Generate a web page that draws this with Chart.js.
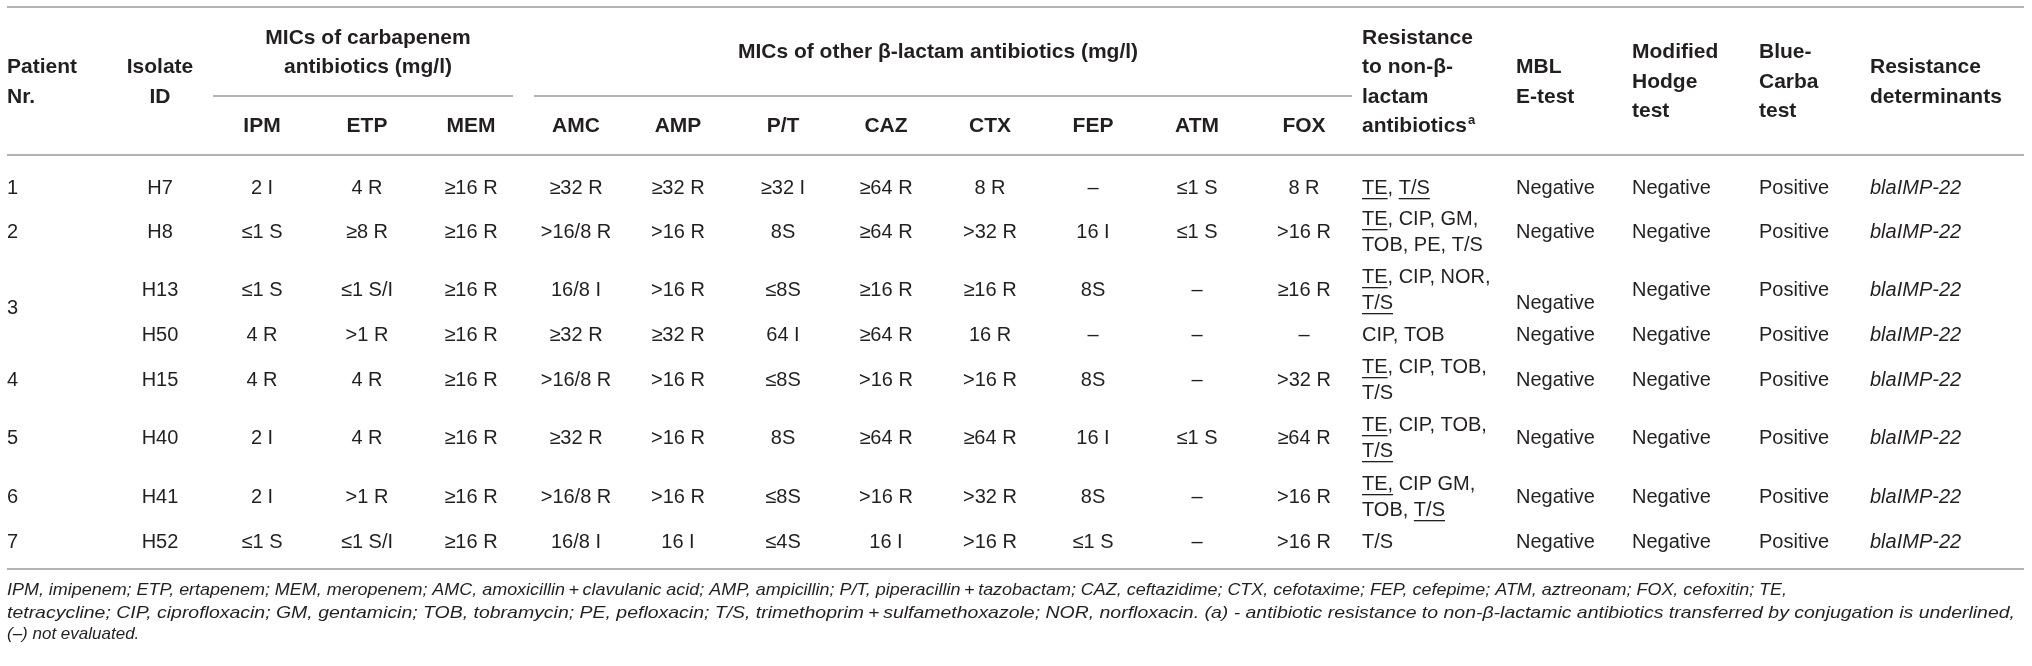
<!DOCTYPE html>
<html>
<head>
<meta charset="utf-8">
<script src="https://cdn.jsdelivr.net/npm/chart.js@4.4.1/dist/chart.umd.min.js"></script>
<style>
  html, body { margin: 0; padding: 0; background: #ffffff; }
  #wrap { width: 2032px; height: 666px; position: relative; }
</style>
</head>
<body>
<div id="wrap"><canvas id="table-chart"></canvas></div>
<script>
// ---- table values, one array per column ----
const patientNr = ['1', '2', '3', '3', '4', '5', '6', '7'];
const isolateId = ['H7', 'H8', 'H13', 'H50', 'H15', 'H40', 'H41', 'H52'];

const micIPM = ['2 I', '≤1 S', '≤1 S', '4 R', '4 R', '2 I', '2 I', '≤1 S'];
const micETP = ['4 R', '≥8 R', '≤1 S/I', '>1 R', '4 R', '4 R', '>1 R', '≤1 S/I'];
const micMEM = ['≥16 R', '≥16 R', '≥16 R', '≥16 R', '≥16 R', '≥16 R', '≥16 R', '≥16 R'];

const micAMC = ['≥32 R', '>16/8 R', '16/8 I', '≥32 R', '>16/8 R', '≥32 R', '>16/8 R', '16/8 I'];
const micAMP = ['≥32 R', '>16 R', '>16 R', '≥32 R', '>16 R', '>16 R', '>16 R', '16 I'];
const micPT  = ['≥32 I', '8S', '≤8S', '64 I', '≤8S', '8S', '≤8S', '≤4S'];
const micCAZ = ['≥64 R', '≥64 R', '≥16 R', '≥64 R', '>16 R', '≥64 R', '>16 R', '16 I'];
const micCTX = ['8 R', '>32 R', '≥16 R', '16 R', '>16 R', '≥64 R', '>32 R', '>16 R'];
const micFEP = ['–', '16 I', '8S', '–', '8S', '16 I', '8S', '≤1 S'];
const micATM = ['≤1 S', '≤1 S', '–', '–', '–', '≤1 S', '–', '–'];
const micFOX = ['8 R', '>16 R', '≥16 R', '–', '>32 R', '≥64 R', '>16 R', '>16 R'];

// _x_ marks text that is underlined (transferred by conjugation)
const nonBetaLactam = [
    '_TE_, _T/S_',
    '_TE_, CIP, GM,\nTOB, PE, T/S',
    '_TE_, CIP, NOR,\n_T/S_',
    'CIP, TOB',
    '_TE_, CIP, TOB,\nT/S',
    '_TE_, CIP, TOB,\n_T/S_',
    '_TE,_ CIP GM,\nTOB, _T/S_',
    'T/S'
];
const mblEtest = ['Negative', 'Negative', 'Negative', 'Negative', 'Negative', 'Negative', 'Negative', 'Negative'];
const hodgeTest = ['Negative', 'Negative', 'Negative', 'Negative', 'Negative', 'Negative', 'Negative', 'Negative'];
const blueCarba = ['Positive', 'Positive', 'Positive', 'Positive', 'Positive', 'Positive', 'Positive', 'Positive'];
const determinants = ['blaIMP-22', 'blaIMP-22', 'blaIMP-22', 'blaIMP-22', 'blaIMP-22', 'blaIMP-22', 'blaIMP-22', 'blaIMP-22'];

const carbapenemLabels = ['IPM', 'ETP', 'MEM'];
const otherLabels = ['AMC', 'AMP', 'P/T', 'CAZ', 'CTX', 'FEP', 'ATM', 'FOX'];

const footnotes = [
    'IPM, imipenem; ETP, ertapenem; MEM, meropenem; AMC, amoxicillin\u2009+\u2009clavulanic acid; AMP, ampicillin; P/T, piperacillin\u2009+\u2009tazobactam; CAZ, ceftazidime; CTX, cefotaxime; FEP, cefepime; ATM, aztreonam; FOX, cefoxitin; TE,',
    'tetracycline; CIP, ciprofloxacin; GM, gentamicin; TOB, tobramycin; PE, pefloxacin; T/S, trimethoprim\u2009+\u2009sulfamethoxazole; NOR, norfloxacin. (a) - antibiotic resistance to non-\u03b2-lactamic antibiotics transferred by conjugation is underlined,',
    '(\u2013) not evaluated.'
];

// ---- layout (table units, mapped through the chart scales) ----
const layout = {
    rowY: [188, 232, 290, 335, 380, 438, 497, 542],
    micX: [262, 367, 471, 576, 678, 783, 886, 990, 1093, 1197, 1304],
    patientX: 7, isolateX: 160,
    resistX: 1362, mblX: 1516, hodgeX: 1632, blueX: 1759, detX: 1870,
    ruleTop: 7, ruleHead: 155, ruleGroup: 96, ruleBottom: 569, left: 7, right: 2024,
    groupRules: [[213, 513], [534, 1352]],
    footY: [590, 613, 634], footW: [1780, 2008, 0],
    lineGap: 26, headGap: 29.5, headMid: 82, mergeLift: 4
};

const headSize = 21;
const headFont = 'bold 21px "Liberation Sans", Arial, sans-serif';
const bodyFont = '20px "Liberation Sans", Arial, sans-serif';
const bodyItalic = 'italic 20px "Liberation Sans", Arial, sans-serif';
const footFont = 'italic 17px "Liberation Sans", Arial, sans-serif';
const ink = '#231f20';
const ruleColor = '#9a9a9a';

let chart;

// Draw a string that may contain _underlined_ parts and ^superscripts
function drawRich(ctx, text, px, py, align, font, size) {
    const parts = [];
    let under = false;
    text.split('_').forEach((piece, i) => {
        if (i > 0) under = !under;
        if (piece) parts.push({ t: piece, u: under });
    });
    const supFont = font.replace(size + 'px', Math.round(size * 0.6) + 'px');
    let total = 0;
    parts.forEach(p => {
        const sup = p.t.split('^');
        p.main = sup[0];
        p.sup = sup[1] || '';
        ctx.font = font;
        p.w = ctx.measureText(p.main).width;
        ctx.font = supFont;
        p.sw = p.sup ? ctx.measureText(p.sup).width + 1 : 0;
        total += p.w + p.sw;
    });
    let x = px;
    if (align === 'center') x = px - total / 2;
    if (align === 'right') x = px - total;
    ctx.textAlign = 'left';
    ctx.textBaseline = 'middle';
    parts.forEach(p => {
        ctx.font = font;
        ctx.fillText(p.main, x, py);
        if (p.u) {
            ctx.fillRect(x, py + size * 0.5, p.w, 1.3);
        }
        x += p.w;
        if (p.sup) {
            ctx.font = supFont;
            ctx.fillText(p.sup, x + 1, py - size * 0.3);
            x += p.sw;
        }
    });
}

// Draw several lines centred vertically round yMid
function drawLines(ctx, lines, px, yMid, gap, align, font, size) {
    const y0 = yMid - gap * (lines.length - 1) / 2;
    lines.forEach((ln, i) => drawRich(ctx, ln, px, y0 + gap * i, align, font, size));
}

const tablePlugin = {
    id: 'tableDraw',
    afterDraw(c) {
        const ctx = c.ctx;
        const sx = v => c.scales.x.getPixelForValue(v);
        const sy = v => c.scales.y.getPixelForValue(v);
        const L = layout;
        const hs = headSize;
        ctx.save();

        // rules
        ctx.strokeStyle = ruleColor;
        ctx.lineWidth = 1.6;
        const hline = (x1, x2, y) => {
            ctx.beginPath();
            ctx.moveTo(sx(x1), sy(y));
            ctx.lineTo(sx(x2), sy(y));
            ctx.stroke();
        };
        hline(L.left, L.right, L.ruleTop);
        hline(L.left, L.right, L.ruleHead);
        hline(L.left, L.right, L.ruleBottom);
        L.groupRules.forEach(r => hline(r[0], r[1], L.ruleGroup));

        // header
        ctx.fillStyle = ink;
        const hm = sy(L.headMid);
        const hg = L.headGap;
        drawLines(ctx, ['Patient', 'Nr.'], sx(L.patientX), hm, hg, 'left', headFont, hs);
        drawLines(ctx, ['Isolate', 'ID'], sx(L.isolateX), hm, hg, 'center', headFont, hs);
        drawLines(ctx, ['MICs of carbapenem', 'antibiotics (mg/l)'],
            sx((L.groupRules[0][0] + L.groupRules[0][1]) / 2 + 5), sy(52.5), hg, 'center', headFont, hs);
        drawRich(ctx, 'MICs of other \u03b2-lactam antibiotics (mg/l)',
            sx((L.groupRules[1][0] + L.groupRules[1][1]) / 2 - 5), sy(52), 'center', headFont, hs);
        carbapenemLabels.concat(otherLabels).forEach((lab, i) => {
            drawRich(ctx, lab, sx(L.micX[i]), sy(126), 'center', headFont, hs);
        });
        drawLines(ctx, ['Resistance', 'to non-\u03b2-', 'lactam', 'antibiotics^a'], sx(L.resistX), hm, hg, 'left', headFont, hs);
        drawLines(ctx, ['MBL', 'E-test'], sx(L.mblX), hm, hg, 'left', headFont, hs);
        drawLines(ctx, ['Modified', 'Hodge', 'test'], sx(L.hodgeX), hm, hg, 'left', headFont, hs);
        drawLines(ctx, ['Blue-', 'Carba', 'test'], sx(L.blueX), hm, hg, 'left', headFont, hs);
        drawLines(ctx, ['Resistance', 'determinants'], sx(L.detX), hm, hg, 'left', headFont, hs);

        // body rows
        const micCols = [micIPM, micETP, micMEM, micAMC, micAMP, micPT, micCAZ, micCTX, micFEP, micATM, micFOX];
        isolateId.forEach((iso, r) => {
            const y = sy(L.rowY[r]);
            drawRich(ctx, iso, sx(L.isolateX), y, 'center', bodyFont, 20);
            micCols.forEach((col, k) => drawRich(ctx, col[r], sx(L.micX[k]), y, 'center', bodyFont, 20));
            drawLines(ctx, nonBetaLactam[r].split('\n'), sx(L.resistX), y, L.lineGap, 'left', bodyFont, 20);
            // H13 MBL result sits on the second line of its merged cell
            const mblY = iso === 'H13' ? y + L.lineGap / 2 : y;
            drawRich(ctx, mblEtest[r], sx(L.mblX), mblY, 'left', bodyFont, 20);
            drawRich(ctx, hodgeTest[r], sx(L.hodgeX), y, 'left', bodyFont, 20);
            drawRich(ctx, blueCarba[r], sx(L.blueX), y, 'left', bodyFont, 20);
            drawRich(ctx, determinants[r], sx(L.detX), y, 'left', bodyItalic, 20);
        });

        // patient numbers, merged over consecutive rows
        let start = 0;
        for (let r = 1; r <= patientNr.length; r++) {
            if (r === patientNr.length || patientNr[r] !== patientNr[start]) {
                let yMid = (L.rowY[start] + L.rowY[r - 1]) / 2;
                if (r - 1 > start) yMid -= L.mergeLift;
                drawRich(ctx, patientNr[start], sx(L.patientX), sy(yMid), 'left', bodyFont, 20);
                start = r;
            }
        }

        // footnotes, stretched to the widths of the original lines
        ctx.font = footFont;
        ctx.textAlign = 'left';
        ctx.textBaseline = 'middle';
        footnotes.forEach((ln, i) => {
            const w = ctx.measureText(ln).width;
            const target = L.footW[i] ? sx(L.footW[i]) - sx(0) : w;
            ctx.save();
            ctx.translate(sx(L.left), sy(L.footY[i]));
            ctx.scale(target / w, 1);
            ctx.fillText(ln, 0, 0);
            ctx.restore();
        });

        ctx.restore();
    }
};

// Hidden linear axes give the table its coordinate system
function initializeChart() {
    const ctx = document.getElementById('table-chart').getContext('2d');
    chart = new Chart(ctx, {
        type: 'scatter',
        data: { datasets: [{ data: [], pointRadius: 0 }] },
        options: {
            responsive: true,
            maintainAspectRatio: false,
            animation: false,
            layout: { padding: 0 },
            plugins: { legend: { display: false }, tooltip: { enabled: false } },
            scales: {
                x: { type: 'linear', min: 0, max: 2032, display: false },
                y: { type: 'linear', min: 0, max: 666, reverse: true, display: false }
            }
        },
        plugins: [tablePlugin]
    });
}

initializeChart();
</script>
</body>
</html>
